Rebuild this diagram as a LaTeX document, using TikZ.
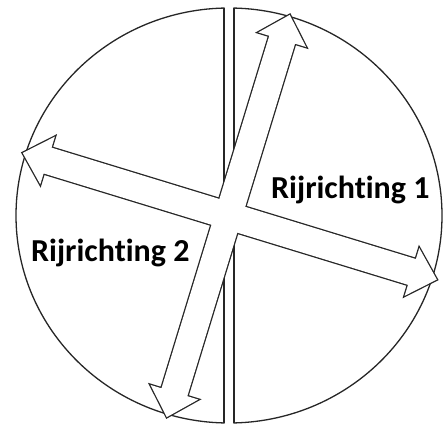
\documentclass[tikz,border=0pt]{standalone}
\usepackage{fontspec}
\setmainfont[Ligatures=NoCommon]{Carlito}
\newcommand\myharrow{(-215.7,0) -- (-189.7,-25) -- (-189.7,-13.5) -- (191.3,-13.5) -- (191.3,-25) -- (217.3,0) -- (191.3,25) -- (191.3,13.5) -- (-189.7,13.5) -- (-189.7,25) -- cycle}
\newcommand\myvarrow{(-0.7,-210.1) -- (24.3,-184.1) -- (12.8,-184.1) -- (12.8,184.5) -- (24.3,184.5) -- (-0.7,210.5) -- (-25.7,184.5) -- (-14.2,184.5) -- (-14.2,-184.1) -- (-25.7,-184.1) -- cycle}
\begin{document}
\begin{tikzpicture}[x=1pt,y=-1pt,line join=miter]
\tikzset{
  rim/.style={draw=black!85, line width=1.3pt},
  arrowrim/.style={draw=black!85, line width=2.6pt},
  label/.style={font=\fontsize{32}{38}\selectfont\bfseries, anchor=base west, inner sep=0pt}
}
\useasboundingbox (0,0) rectangle (443,425);
\coordinate (C) at (229,215.5);
% left half
\begin{scope}
  \clip (-5,-5) rectangle (224.6,430);
  \draw[rim] (C) ellipse [x radius=213pt, y radius=207.5pt];
\end{scope}
% right half
\begin{scope}
  \clip (233.4,-5) rectangle (450,430);
  \draw[rim] (C) ellipse [x radius=213pt, y radius=207.5pt];
\end{scope}
\coordinate (lt) at (224,8.1);
\coordinate (lb) at (224,422.9);
\coordinate (rt) at (234,8.1);
\coordinate (rb) at (234,422.9);
\draw[rim] (lt) -- (lb);
\draw[rim] (rt) -- (rb);
% arrows
\begin{scope}[shift={(229,216)}, rotate=-17]
  \path[arrowrim] \myharrow;
  \path[arrowrim] \myvarrow;
  \fill[white] \myharrow;
  \fill[white] \myvarrow;
\end{scope}
\node[label] (r1) at (271,198) {Rijrichting 1};
\node[label] (r2) at (31,261.7) {Rijrichting 2};
\end{tikzpicture}
\end{document}
